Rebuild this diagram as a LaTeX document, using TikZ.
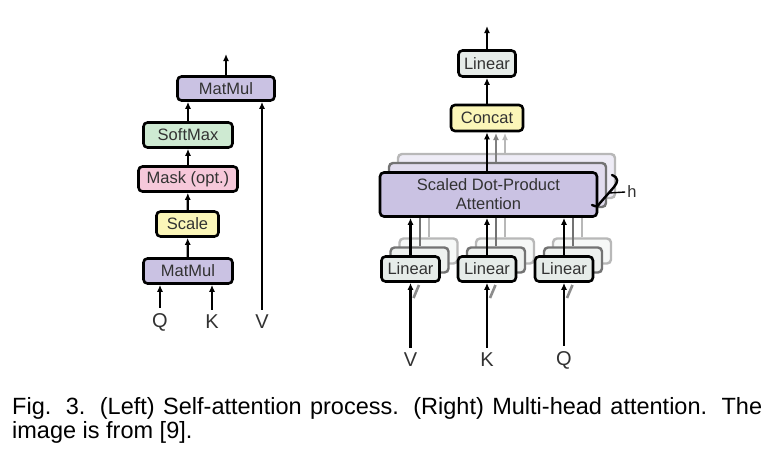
\documentclass[tikz,border=0pt]{standalone}
\usepackage{fontspec}
\setmainfont{Liberation Sans}
\usetikzlibrary{arrows.meta, positioning}

\definecolor{mmpurple}{RGB}{202,194,227}
\definecolor{smgreen}{RGB}{206,234,210}
\definecolor{mkpink}{RGB}{246,200,218}
\definecolor{scyellow}{RGB}{251,246,184}
\definecolor{lingray}{RGB}{230,236,233}
\definecolor{txtgray}{RGB}{50,50,50}
\definecolor{shadeA}{RGB}{225,220,238}
\definecolor{shadeB}{RGB}{238,236,246}
\definecolor{linA}{RGB}{238,241,239}
\definecolor{linB}{RGB}{246,248,247}

\begin{document}
\begin{tikzpicture}[x=1pt, y=-1pt,
        box/.style={draw, line width=2.6pt, rounded corners=4pt, inner sep=0pt, text=txtgray,
            font=\fontsize{16.5}{19}\selectfont},
        ghostA/.style={draw=black!55, line width=2.4pt, rounded corners=4pt, inner sep=0pt},
        ghostB/.style={draw=black!28, line width=2.4pt, rounded corners=4pt, inner sep=0pt},
        arr/.style={-{Latex[length=7pt, width=6pt]}, line width=2.2pt},
        lbl/.style={text=txtgray, font=\fontsize{20}{22}\selectfont, inner sep=5pt}]
        \fill[white] (0,0) rectangle (764,461);
        \useasboundingbox (0,0) rectangle (764,461);

        % left: self-attention
        \node[box, fill=mmpurple, minimum width=97pt, minimum height=24pt] (mmtop) at (226,88.5) {MatMul};
        \node[box, fill=smgreen, minimum width=89pt, minimum height=25pt] (soft) at (188,135) {SoftMax};
        \node[box, fill=mkpink, minimum width=99pt, minimum height=25pt] (mask) at (188,179) {Mask (opt.)};
        \node[box, fill=scyellow, minimum width=62pt, minimum height=25pt] (scale) at (187.5,224) {Scale};
        \node[box, fill=mmpurple, minimum width=89pt, minimum height=25pt] (mmbot) at (188,271) {MatMul};
        \node[lbl] (q) at (160,322) {Q};
        \node[lbl] (k) at (212,322) {K};
        \node[lbl] (v) at (262,322) {V};
        \coordinate (outleft) at (226,54);

        \draw[arr] (mmtop) -- (outleft);
        \draw[arr] (soft) -- (soft |- mmtop.south);
        \draw[arr] (mask) -- (soft);
        \draw[arr] (scale) -- (mask);
        \draw[arr] (mmbot) -- (scale);
        \draw[arr] (q) -- (q |- mmbot.south);
        \draw[arr] (k) -- (k |- mmbot.south);
        \draw[arr] (v) -- (v |- mmtop.south);

        % right: multi-head attention, back copies first
        \node[ghostB, fill=shadeB, minimum width=217pt, minimum height=44pt] (sdpaB) at (506.5,176) {};
        \node[ghostA, fill=shadeA, minimum width=217pt, minimum height=44pt] (sdpaA) at (497.5,185) {};
        \node[ghostB, fill=linB, minimum width=58pt, minimum height=25pt] (lvB) at (428.5,251) {};
        \node[ghostB, fill=linB, minimum width=58pt, minimum height=25pt] (lkB) at (505,251) {};
        \node[ghostB, fill=linB, minimum width=58pt, minimum height=25pt] (lqB) at (582,251) {};
        \node[ghostA, fill=linA, minimum width=58pt, minimum height=25pt] (lvA) at (419.5,260) {};
        \node[ghostA, fill=linA, minimum width=58pt, minimum height=25pt] (lkA) at (496,260) {};
        \node[ghostA, fill=linA, minimum width=58pt, minimum height=25pt] (lqA) at (573,260) {};

        \draw[black!28, line width=2pt] (lvB) -- (lvB |- sdpaB.south);
        \draw[black!28, line width=2pt] (lkB) -- (lkB |- sdpaB.south);
        \draw[black!28, line width=2pt] (lqB) -- (lqB |- sdpaB.south);
        \draw[black!55, line width=2pt] (lvA) -- (lvA |- sdpaA.south);
        \draw[black!55, line width=2pt] (lkA) -- (lkA |- sdpaA.south);
        \draw[black!55, line width=2pt] (lqA) -- (lqA |- sdpaA.south);

        \node[box, fill=lingray, minimum width=57pt, minimum height=26pt] (lout) at (487,63.5) {Linear};
        \node[box, fill=scyellow, minimum width=72pt, minimum height=26pt] (concat) at (487,118) {Concat};
        \node[box, fill=mmpurple, minimum width=217pt, minimum height=44pt, align=center] (sdpa) at (488.5,194.5)
            {Scaled Dot-Product\\Attention};
        \node[box, fill=lingray, minimum width=58pt, minimum height=25pt] (lv) at (410.5,269) {Linear};
        \node[box, fill=lingray, minimum width=58pt, minimum height=25pt] (lk) at (487,269) {Linear};
        \node[box, fill=lingray, minimum width=58pt, minimum height=25pt] (lq) at (564,269) {Linear};
        \node[lbl] (vin) at (410.5,360) {V};
        \node[lbl] (kin) at (487,360) {K};
        \node[lbl] (qin) at (564,360) {Q};
        \node[text=txtgray, font=\fontsize{16.5}{19}\selectfont, inner sep=2pt] (heads) at (632,192) {h};
        \coordinate (outright) at (487,26);

        \draw[arr] (lout) -- (outright);
        \draw[arr] (concat) -- (lout);
        \draw[arr] (concat |- sdpa.north) -- (concat.south);
        \draw[arr, black!50] (496,162) -- (496,133);
        \draw[arr, black!28] (505,153) -- (505,133);
        \draw[arr] (lv) -- (lv |- sdpa.south);
        \draw[arr] (lk) -- (lk |- sdpa.south);
        \draw[arr] (lq) -- (lq |- sdpa.south);
        \draw[black!45, line width=2.6pt] (413.5,298) -- (419,285);
        \draw[black!45, line width=2.6pt] (490,298) -- (495.5,285);
        \draw[black!45, line width=2.6pt] (567,298) -- (572.5,285);
        \draw[arr] (vin) -- (lv);
        \draw[arr] (kin) -- (lk);
        \draw[arr] (qin) -- (lq);

        \draw[line width=2.4pt, line cap=round] (612,175) .. controls (619,178) and (618,182) .. (614,187)
            -- (600,203) .. controls (597,207) .. (592,205);
        \draw[line width=1.4pt] (609,193) -- (heads.west);

        % caption
        \node[anchor=base west, inner sep=0pt, font=\fontsize{23.5}{28}\selectfont] (capA) at (12,414)
            {\makebox[750pt][s]{Fig. 3. (Left) Self-attention process. (Right) Multi-head attention. The}};
        \node[anchor=base west, inner sep=0pt, font=\fontsize{23.5}{28}\selectfont] (capB) at (12,438)
            {image is from [9].};
\end{tikzpicture}
\end{document}
